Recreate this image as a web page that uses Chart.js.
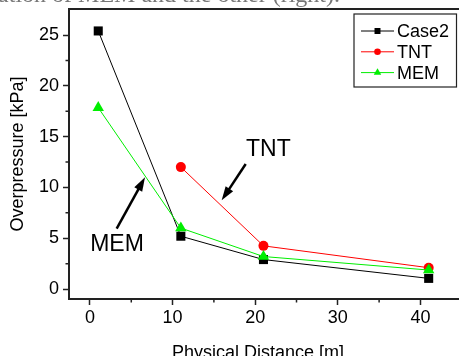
<!DOCTYPE html>
<html>
<head>
<meta charset="utf-8">
<script src="https://cdn.jsdelivr.net/npm/chart.js@4.4.1/dist/chart.umd.min.js"></script>
<style>
html, body { margin: 0; padding: 0; background: #fff; }
canvas { display: block; }
</style>
</head>
<body>
<canvas id="chart1" width="459" height="356"></canvas>
<script>
var distances = [1, 11, 21, 41];
var tntDistances = [11, 21, 41];
var case2Values = [25.4, 5.2, 2.9, 1.05];
var tntValues = [12.0, 4.25, 2.1];
var memValues = [17.85, 6.0, 3.2, 1.87];

var xTicks = [0, 10, 20, 30, 40];
var xMinorTicks = [5, 15, 25, 35];
var yTicks = [0, 5, 10, 15, 20, 25];
var yMinorTicks = [2.5, 7.5, 12.5, 17.5, 22.5];

// arrow notes, in data units
var noteLabels = ['MEM', 'TNT'];
var noteTextX = [3.27, 21.6];
var noteTextY = [4.5, 13.8];
var noteTailX = [3.23, 18.85];
var noteTailY = [5.95, 12.3];
var noteTipX = [6.66, 15.94];
var noteTipY = [11.0, 8.73];

var FONT = '"Liberation Sans", Arial, sans-serif';

function toPoints(xs, ys) {
    return xs.map(function (x, i) { return { x: x, y: ys[i] }; });
}

function markPoint(ctx, style, r, x, y) {
    if (Chart.helpers && Chart.helpers.drawPoint) {
        Chart.helpers.drawPoint(ctx, { pointStyle: style, radius: r, rotation: 0, borderWidth: 0 }, x, y);
        return;
    }
    ctx.beginPath();
    if (style === 'rect') {
        var s = r * Math.SQRT1_2;
        ctx.rect(x - s, y - s, 2 * s, 2 * s);
    } else if (style === 'triangle') {
        ctx.moveTo(x, y - r);
        ctx.lineTo(x + r * 0.866, y + r / 2);
        ctx.lineTo(x - r * 0.866, y + r / 2);
        ctx.closePath();
    } else {
        ctx.arc(x, y, r, 0, Math.PI * 2);
    }
    ctx.fill();
}

function arrow(ctx, x0, y0, x1, y1) {
    var a = Math.atan2(y1 - y0, x1 - x0);
    var len = 14, half = 4.5;
    var bx = x1 - Math.cos(a) * len, by = y1 - Math.sin(a) * len;
    ctx.beginPath();
    ctx.moveTo(x0, y0);
    ctx.lineTo(bx + Math.cos(a) * 2, by + Math.sin(a) * 2);
    ctx.stroke();
    ctx.beginPath();
    ctx.moveTo(x1, y1);
    ctx.lineTo(bx + Math.sin(a) * half, by - Math.cos(a) * half);
    ctx.lineTo(bx - Math.sin(a) * half, by + Math.cos(a) * half);
    ctx.closePath();
    ctx.fill();
}

var extras = {
    id: 'extras',
    afterDraw: function (chart) {
        var ctx = chart.ctx;
        var area = chart.chartArea;
        var sx = chart.scales.x, sy = chart.scales.y;
        ctx.save();

        // minor ticks
        ctx.strokeStyle = '#222';
        ctx.lineWidth = 1.5;
        ctx.beginPath();
        yMinorTicks.forEach(function (v) {
            var py = sy.getPixelForValue(v);
            ctx.moveTo(area.left - 3.5, py);
            ctx.lineTo(area.left, py);
        });
        xMinorTicks.forEach(function (v) {
            var px = sx.getPixelForValue(v);
            ctx.moveTo(px, area.bottom);
            ctx.lineTo(px, area.bottom + 3.5);
        });
        ctx.stroke();

        // top frame line
        ctx.lineWidth = 2;
        ctx.beginPath();
        ctx.moveTo(area.left - 1, area.top);
        ctx.lineTo(area.right, area.top);
        ctx.stroke();

        // axis titles
        ctx.fillStyle = '#000';
        ctx.font = '18px ' + FONT;
        ctx.textAlign = 'center';
        ctx.textBaseline = 'middle';
        ctx.fillText('Physical Distance [m]', area.left + 189, 353);
        ctx.save();
        ctx.translate(18, (area.top + area.bottom) / 2);
        ctx.rotate(-Math.PI / 2);
        ctx.fillText('Overpressure [kPa]', 0, 0);
        ctx.restore();

        // cut-off caption above the figure
        ctx.fillStyle = '#777';
        ctx.font = '24px "Liberation Serif", "Times New Roman", serif';
        ctx.textAlign = 'right';
        ctx.textBaseline = 'alphabetic';
        ctx.fillText('uation of MEM and the other (right).', 340, 1.5);

        // legend
        var bx = area.right - 105, by = area.top + 5, bw = 102.5, bh = 73;
        ctx.fillStyle = '#fff';
        ctx.fillRect(bx, by, bw, bh);
        ctx.strokeStyle = '#222';
        ctx.lineWidth = 1.2;
        ctx.strokeRect(bx, by, bw, bh);
        chart.data.datasets.forEach(function (ds, i) {
            var ly = by + 17 + i * 20.8;
            ctx.strokeStyle = ds.borderColor;
            ctx.lineWidth = 1;
            ctx.beginPath();
            ctx.moveTo(bx + 7, ly);
            ctx.lineTo(bx + 40, ly);
            ctx.stroke();
            ctx.fillStyle = ds.pointBackgroundColor;
            markPoint(ctx, ds.pointStyle, ds.pointRadius * 0.66, bx + 23.5, ly);
            ctx.fillStyle = '#000';
            ctx.font = '18px ' + FONT;
            ctx.textAlign = 'left';
            ctx.textBaseline = 'middle';
            ctx.fillText(ds.label, bx + 43, ly + 1);
        });

        // arrow notes
        ctx.strokeStyle = '#000';
        ctx.fillStyle = '#000';
        ctx.lineWidth = 2.5;
        noteLabels.forEach(function (t, i) {
            arrow(ctx,
                sx.getPixelForValue(noteTailX[i]), sy.getPixelForValue(noteTailY[i]),
                sx.getPixelForValue(noteTipX[i]), sy.getPixelForValue(noteTipY[i]));
            ctx.font = '23px ' + FONT;
            ctx.textAlign = 'center';
            ctx.textBaseline = 'middle';
            ctx.fillText(t, sx.getPixelForValue(noteTextX[i]), sy.getPixelForValue(noteTextY[i]) + 1);
        });
        ctx.restore();
    }
};

var chart1 = new Chart(document.getElementById('chart1'), {
    type: 'line',
    data: {
        datasets: [
            {
                label: 'Case2',
                data: toPoints(distances, case2Values),
                borderColor: '#000',
                backgroundColor: '#000',
                pointBackgroundColor: '#000',
                pointBorderColor: '#000',
                pointStyle: 'rect',
                pointRadius: 6.4,
                pointBorderWidth: 0,
                borderWidth: 1,
                order: 3,
            },
            {
                label: 'TNT',
                data: toPoints(tntDistances, tntValues),
                borderColor: '#ff0000',
                backgroundColor: '#ff0000',
                pointBackgroundColor: '#ff0000',
                pointBorderColor: '#ff0000',
                pointStyle: 'circle',
                pointRadius: 5,
                pointBorderWidth: 0,
                borderWidth: 1,
                order: 2,
            },
            {
                label: 'MEM',
                data: toPoints(distances, memValues),
                borderColor: '#00ee00',
                backgroundColor: '#00ee00',
                pointBackgroundColor: '#00ee00',
                pointBorderColor: '#00ee00',
                pointStyle: 'triangle',
                pointRadius: 6.6,
                pointBorderWidth: 0,
                borderWidth: 1,
                order: 1,
            },
        ],
    },
    options: {
        responsive: false,
        animation: false,
        layout: { autoPadding: false, padding: { top: 9, right: 0, left: 0, bottom: 0 } },
        plugins: { legend: { display: false }, tooltip: { enabled: false } },
        scales: {
            x: {
                type: 'linear',
                min: -2.54,
                max: 44.67,
                afterBuildTicks: function (s) { s.ticks = xTicks.map(function (v) { return { value: v }; }); },
                afterFit: function (s) { s.height = 57; s.paddingLeft = 0; s.paddingRight = 0; },
                ticks: { color: '#000', font: { family: FONT, size: 18 }, padding: 2, maxRotation: 0, autoSkip: false },
                grid: { drawOnChartArea: false, tickLength: 6, tickWidth: 1.5, tickColor: '#222' },
                border: { color: '#222', width: 2 },
            },
            y: {
                min: -0.98,
                max: 27.56,
                afterBuildTicks: function (s) { s.ticks = yTicks.map(function (v) { return { value: v }; }); },
                afterFit: function (s) { s.width = 69; s.paddingTop = 0; s.paddingBottom = 0; },
                ticks: { color: '#000', font: { family: FONT, size: 18 }, padding: 4, autoSkip: false },
                grid: { drawOnChartArea: false, tickLength: 6, tickWidth: 1.5, tickColor: '#222' },
                border: { color: '#222', width: 2 },
            },
        },
    },
    plugins: [extras],
});
</script>
</body>
</html>
